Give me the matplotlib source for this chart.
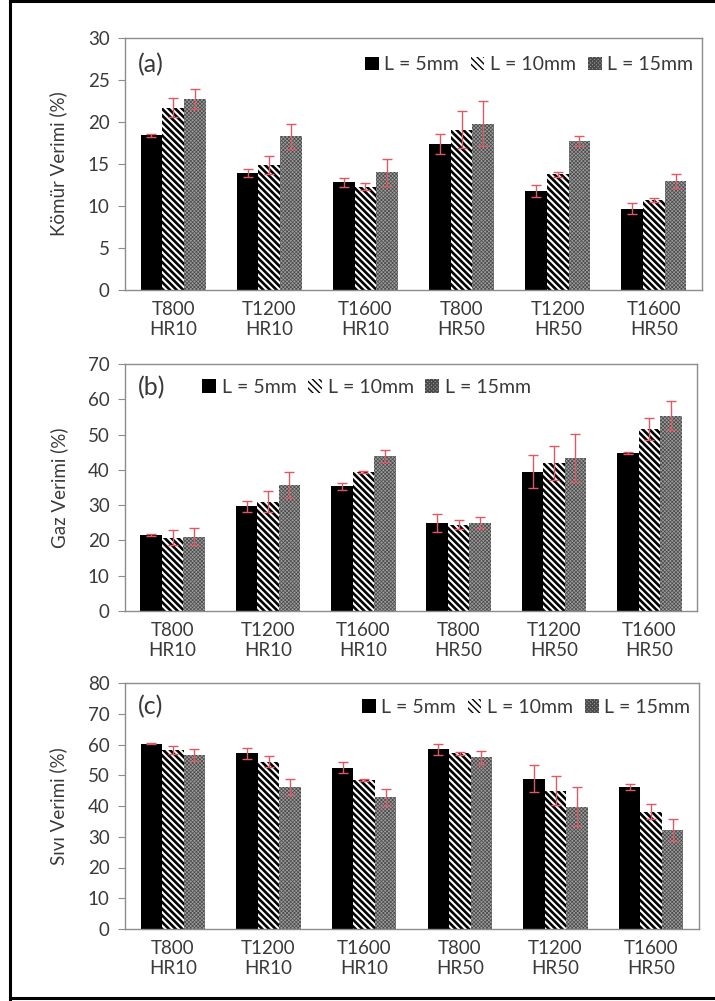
import matplotlib
matplotlib.use("Agg")
import matplotlib.pyplot as plt
import numpy as np

plt.rcParams['font.family'] = ['Lato', 'DejaVu Sans']

categories = ["T800\nHR10", "T1200\nHR10", "T1600\nHR10", "T800\nHR50", "T1200\nHR50", "T1600\nHR50"]
series_names = ["L = 5mm", "L = 10mm", "L = 15mm"]

# (a) Kömür verimi
char_5 = [18.4, 13.9, 12.8, 17.4, 11.8, 9.7]
char_10 = [21.7, 14.9, 12.3, 19.1, 13.8, 10.7]
char_15 = [22.7, 18.3, 14.0, 19.8, 17.7, 13.0]
char_5_err = [0.15, 0.45, 0.5, 1.2, 0.7, 0.7]
char_10_err = [1.1, 1.1, 0.4, 2.2, 0.3, 0.2]
char_15_err = [1.2, 1.5, 1.6, 2.7, 0.6, 0.8]

# (b) Gaz verimi
gas_5 = [21.5, 29.7, 35.3, 25.0, 39.5, 44.8]
gas_10 = [20.8, 31.0, 39.5, 24.4, 42.0, 51.6]
gas_15 = [21.1, 35.7, 43.9, 25.0, 43.4, 55.4]
gas_5_err = [0.2, 1.6, 1.1, 2.6, 4.6, 0.2]
gas_10_err = [2.2, 3.0, 0.3, 1.3, 4.9, 3.0]
gas_15_err = [2.5, 3.6, 1.7, 1.5, 6.7, 4.2]

# (c) Sıvı verimi
liq_5 = [60.3, 57.1, 52.5, 58.4, 48.9, 46.2]
liq_10 = [58.2, 54.4, 48.4, 57.1, 45.0, 38.2]
liq_15 = [56.5, 46.3, 42.8, 55.9, 39.8, 32.2]
liq_5_err = [0.2, 1.8, 1.8, 1.9, 4.4, 0.9]
liq_10_err = [1.3, 1.8, 0.3, 0.5, 4.8, 2.5]
liq_15_err = [2.0, 2.6, 2.8, 2.1, 6.4, 3.6]

text_color = "#3a3a3a"
err_color = "#dc5a64"
spine_color = "#8c8c8c"

# bar styles: (facecolor, hatch, hatch colour, hatch linewidth)
styles = [("black", None, "black", 1.0),
          ("white", "\\" * 5, "black", 1.9),
          ("#9c9c9c", "x" * 9, "#4a4a4a", 0.5)]

W, H = 715, 1001
fig = plt.figure(figsize=(W / 100, H / 100), dpi=100)

# outer frame (left, top, bottom lines)
fig.add_artist(plt.Line2D([10 / W, 10 / W], [0, 1], color="black", lw=2.2, transform=fig.transFigure))
fig.add_artist(plt.Line2D([10 / W, 1], [1 - 1 / H, 1 - 1 / H], color="black", lw=2.2, transform=fig.transFigure))
fig.add_artist(plt.Line2D([10 / W, 1], [1 - 998 / H, 1 - 998 / H], color="black", lw=2.2, transform=fig.transFigure))

# panel geometry in pixels: left, right, top, bottom
panels = [
    dict(box=(125, 702, 38, 290), ymax=30, step=5, label="Kömür Verimi (%)", tag="(a)",
         vals=[char_5, char_10, char_15], errs=[char_5_err, char_10_err, char_15_err],
         leg=("center right", 0.985, 0.893)),
    dict(box=(125, 697, 364, 611), ymax=70, step=10, label="Gaz Verimi (%)", tag="(b)",
         vals=[gas_5, gas_10, gas_15], errs=[gas_5_err, gas_10_err, gas_15_err],
         leg=("center left", 0.135, 0.905)),
    dict(box=(125, 699, 683, 929), ymax=80, step=10, label="Sıvı Verimi (%)", tag="(c)",
         vals=[liq_5, liq_10, liq_15], errs=[liq_5_err, liq_10_err, liq_15_err],
         leg=("center right", 0.985, 0.902)),
]

x = np.arange(len(categories))
bw = 0.225

for p in panels:
    l, r, t, b = p["box"]
    ax = fig.add_axes([l / W, 1 - b / H, (r - l) / W, (b - t) / H])
    handles = []
    for i, (vals, errs) in enumerate(zip(p["vals"], p["errs"])):
        fc, hatch, hc, hlw = styles[i]
        with plt.rc_context({"hatch.linewidth": hlw, "hatch.color": hc}):
            bars = ax.bar(x + (i - 1) * bw, vals, bw, color=fc, hatch=hatch,
                          edgecolor=hc, linewidth=0, label=series_names[i], zorder=2)
        handles.append(bars)
        ax.errorbar(x + (i - 1) * bw, vals, yerr=errs, fmt="none", ecolor=err_color,
                    elinewidth=1.0, capsize=3.5, capthick=1.0, zorder=3)
    ax.set_xlim(-0.5, len(categories) - 0.5)
    ax.set_ylim(0, p["ymax"])
    ax.set_yticks(np.arange(0, p["ymax"] + 1, p["step"]))
    ax.set_xticks(x)
    ax.set_xticklabels(categories, linespacing=1.2)
    for s in ax.spines.values():
        s.set_color(spine_color)
        s.set_linewidth(1.0)
    ax.tick_params(axis="y", direction="out", length=5, color=spine_color, labelsize=13.5,
                   labelcolor=text_color, pad=6)
    ax.tick_params(axis="x", length=0, labelsize=13.5, labelcolor=text_color, pad=8)
    ax.set_ylabel(p["label"], fontsize=13.5, color=text_color)
    ax.yaxis.set_label_coords(-0.1, 0.5)
    ax.text(0.022, p["leg"][2], p["tag"], transform=ax.transAxes, fontsize=18,
            color=text_color, va="center", ha="left")
    loc, lx, ly = p["leg"]
    ax.legend(handles=handles, loc=loc, bbox_to_anchor=(lx, ly), ncol=3, frameon=False,
              fontsize=14, handlelength=0.7, handleheight=0.7, handletextpad=0.3,
              columnspacing=0.6, borderpad=0, borderaxespad=0, labelcolor=text_color)

fig.savefig("out.png", dpi=100)
